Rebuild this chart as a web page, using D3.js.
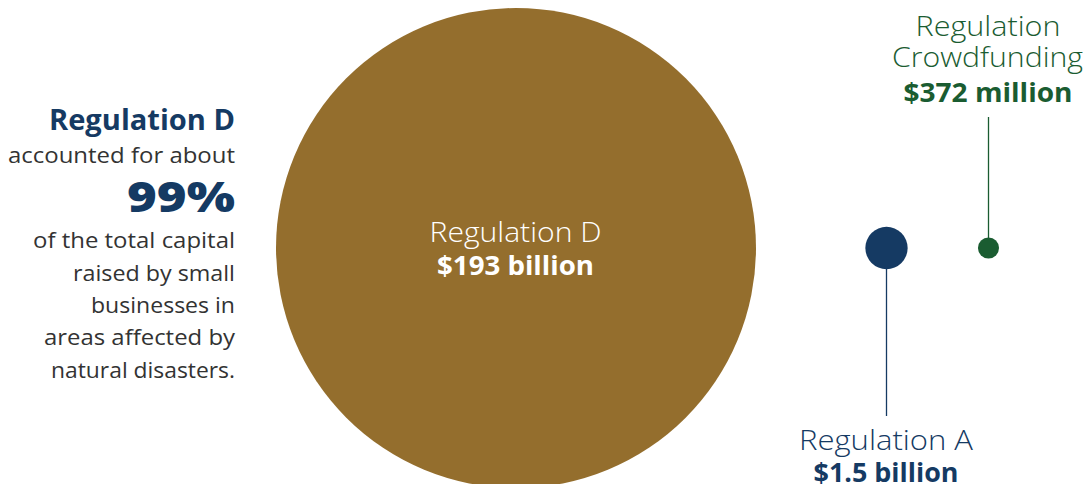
<!DOCTYPE html>
<html>
<head>
<meta charset="utf-8">
<script src="https://cdn.jsdelivr.net/npm/d3@7"></script>
<style>
  html, body { margin: 0; padding: 0; background: #fff; }
  svg { display: block; }
  text { font-family: "Open Sans", "Noto Sans", sans-serif; }
</style>
</head>
<body>
<svg id="chart" width="1091" height="484"></svg>
<script>
// ---- data ----
const categories = ["Regulation D", "Regulation A", "Regulation Crowdfunding"];
const valuesBillion = [193, 1.5, 0.372];
const valueLabels = ["$193 billion", "$1.5 billion", "$372 million"];
const nameLines = [["Regulation D"], ["Regulation A"], ["Regulation", "Crowdfunding"]];
const sideHeadline = "Regulation D";
const sideIntro = "accounted for about";
const sideShare = "99%";
const sideBody = ["of the total capital", "raised by small", "businesses in", "areas affected by", "natural disasters."];

// ---- style ----
const colors = ["#946E2D", "#153A63", "#1A5C31"];
const textGrey = "#333333";

const svg = d3.select("#chart");
const cy = 248;

// area-proportional radii
const r = d3.scaleSqrt().domain([0, d3.max(valuesBillion)]).range([0, 240]);
const x = d3.scaleOrdinal().domain(categories).range([516, 886.5, 988.5]);
const color = d3.scaleOrdinal().domain(categories).range(colors);

const data = categories.map((c, i) => ({ cat: c, v: valuesBillion[i], label: valueLabels[i], lines: nameLines[i] }));

// stretch text horizontally to mimic the wide geometric typeface of the original
function addText(parent, str, px, py, size, weight, fill, width) {
  const t = parent.append("text").attr("x", px).attr("y", py)
    .attr("font-size", size).attr("font-weight", weight).attr("fill", fill).text(str);
  if (width) t.attr("textLength", width).attr("lengthAdjust", "spacingAndGlyphs");
  return t;
}

// leader lines (behind circles)
svg.append("line")
  .attr("x1", x(categories[1])).attr("x2", x(categories[1]))
  .attr("y1", cy).attr("y2", 416)
  .attr("stroke", color(categories[1])).attr("stroke-width", 1.3);
svg.append("line")
  .attr("x1", x(categories[2])).attr("x2", x(categories[2]))
  .attr("y1", cy).attr("y2", 117)
  .attr("stroke", color(categories[2])).attr("stroke-width", 1.3);

svg.selectAll("circle.bubble")
  .data(data)
  .join("circle")
  .attr("class", "bubble")
  .attr("cx", d => x(d.cat))
  .attr("cy", cy)
  .attr("r", d => r(d.v))
  .attr("fill", d => color(d.cat));

// Regulation D label inside the big circle
const dLbl = svg.append("g").attr("text-anchor", "middle");
addText(dLbl, data[0].lines[0], 515.5, 241.5, 27, 300, "#fff", 172);
addText(dLbl, data[0].label, 515.5, 275, 27, 700, "#fff", 157);

// Regulation A label (below)
const aLbl = svg.append("g").attr("text-anchor", "middle");
addText(aLbl, data[1].lines[0], 886, 450, 27, 300, color(categories[1]), 174);
addText(aLbl, data[1].label, 886, 482, 27, 700, color(categories[1]), 145);

// Crowdfunding label (above)
const cLbl = svg.append("g").attr("text-anchor", "middle");
addText(cLbl, data[2].lines[0], 988, 36, 27, 300, color(categories[2]), 145);
addText(cLbl, data[2].lines[1], 987.5, 66.7, 27, 300, color(categories[2]), 191);
addText(cLbl, data[2].label, 988, 101.7, 27, 700, color(categories[2]), 169);

// Side annotation
const side = svg.append("g").attr("text-anchor", "end");
const sx = 235;
addText(side, sideHeadline, sx, 130, 28, 700, colors[1], 186);
addText(side, sideIntro, sx, 163, 22.5, 400, textGrey, 227);
addText(side, sideShare, sx, 211.7, 42, 800, colors[1], 108);
const bodyW = [202, 162, 144, 191, 184];
sideBody.forEach((t, i) => {
  addText(side, t, sx, 248.3 + i * 32.3, 22.5, 400, textGrey, bodyW[i]);
});
</script>
</body>
</html>
